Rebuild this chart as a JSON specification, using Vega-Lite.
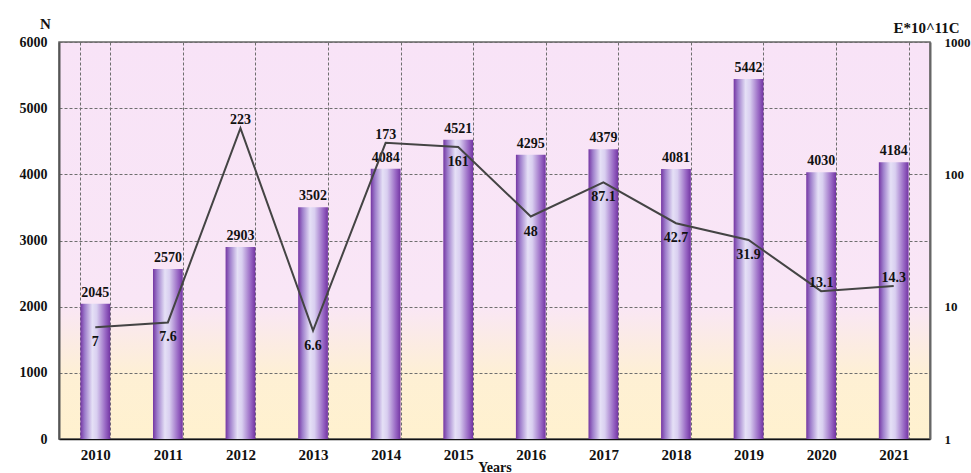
{
  "$schema": "https://vega.github.io/schema/vega-lite/v6.json",
  "width": 871,
  "height": 397,
  "autosize": "none",
  "padding": {"left": 59, "top": 42, "right": 41, "bottom": 34},
  "background": "white",
  "config": {
    "font": "Liberation Serif",
    "view": {
      "stroke": "#666666",
      "strokeWidth": 1.5,
      "fill": {
        "gradient": "linear",
        "x1": 0, "y1": 0, "x2": 0, "y2": 1,
        "stops": [
          {"offset": 0, "color": "#f8e3f7"},
          {"offset": 0.66, "color": "#f9e6f6"},
          {"offset": 0.84, "color": "#fef0d4"},
          {"offset": 1, "color": "#fff1cf"}
        ]
      }
    },
    "axis": {
      "labelFont": "Liberation Serif",
      "labelFontWeight": "bold",
      "labelFontSize": 14,
      "labelColor": "#111111",
      "titleFont": "Liberation Serif",
      "titleFontWeight": "bold",
      "titleFontSize": 15,
      "titleColor": "#111111",
      "tickSize": 0,
      "gridColor": "#6e6e6e",
      "gridDash": [3, 2],
      "gridWidth": 1
    }
  },
  "data": {
    "values": [
      {"year": "2010", "N": 2045, "E": 7},
      {"year": "2011", "N": 2570, "E": 7.6},
      {"year": "2012", "N": 2903, "E": 223},
      {"year": "2013", "N": 3502, "E": 6.6},
      {"year": "2014", "N": 4084, "E": 173},
      {"year": "2015", "N": 4521, "E": 161},
      {"year": "2016", "N": 4295, "E": 48},
      {"year": "2017", "N": 4379, "E": 87.1},
      {"year": "2018", "N": 4081, "E": 42.7},
      {"year": "2019", "N": 5442, "E": 31.9},
      {"year": "2020", "N": 4030, "E": 13.1},
      {"year": "2021", "N": 4184, "E": 14.3}
    ]
  },
  "encoding": {
    "x": {
      "field": "year",
      "type": "ordinal",
      "scale": {"paddingInner": 0.59, "paddingOuter": 0.295},
      "axis": {
        "title": "Years",
        "labelAngle": 0,
        "labelPadding": 8,
        "labelFontSize": 15,
        "titleFontSize": 14,
        "titleBaseline": "top",
        "titleY": 21,
        "tickBand": "extent",
        "grid": true,
        "domainColor": "#111111",
        "domainWidth": 1.5
      }
    }
  },
  "layer": [
    {
      "layer": [
        {
          "mark": {
            "type": "bar",
            "color": {
              "gradient": "linear",
              "x1": 0, "y1": 0, "x2": 1, "y2": 0,
              "stops": [
                {"offset": 0, "color": "#7436a3"},
                {"offset": 0.15, "color": "#9f7fcc"},
                {"offset": 0.4, "color": "#e5e0f6"},
                {"offset": 0.55, "color": "#d9cff0"},
                {"offset": 0.85, "color": "#9664c2"},
                {"offset": 1, "color": "#7234a2"}
              ]
            }
          },
          "encoding": {
            "y": {
              "field": "N",
              "type": "quantitative",
              "scale": {"domain": [0, 6000], "nice": false},
              "axis": {
                "orient": "left",
                "values": [0, 1000, 2000, 3000, 4000, 5000, 6000],
                "format": "d",
                "grid": true,
                "labelPadding": 12,
                "domainColor": "#555555",
                "domainWidth": 2,
                "title": "N",
                "titleAngle": 0,
                "titleAlign": "center",
                "titleBaseline": "alphabetic",
                "titleX": -14,
                "titleY": -14
              }
            }
          }
        },
        {
          "mark": {"type": "text", "font": "Liberation Serif", "fontWeight": "bold", "fontSize": 14, "color": "#111111", "baseline": "alphabetic", "dy": -7},
          "encoding": {
            "y": {"field": "N", "type": "quantitative"},
            "text": {"field": "N", "type": "quantitative", "format": "d"}
          }
        }
      ]
    },
    {
      "layer": [
        {
          "mark": {"type": "line", "color": "#444444", "strokeWidth": 2},
          "encoding": {
            "y": {
              "field": "E",
              "type": "quantitative",
              "scale": {"type": "log", "domain": [1, 1000], "nice": false},
              "axis": {
                "orient": "right",
                "values": [1, 10, 100, 1000],
                "format": "d",
                "grid": false,
                "labelFontSize": 13,
                "labelPadding": 14,
                "domainColor": "#666666",
                "domainWidth": 2,
                "title": "E*10^11C",
                "titleAngle": 0,
                "titleAlign": "center",
                "titleBaseline": "alphabetic",
                "titleX": -4,
                "titleY": -10
              }
            }
          }
        },
        {
          "transform": [{"filter": "indexof(['2012','2014','2020','2021'], datum.year) >= 0"}],
          "mark": {"type": "text", "font": "Liberation Serif", "fontWeight": "bold", "fontSize": 14, "color": "#111111", "baseline": "alphabetic", "dy": -4},
          "encoding": {
            "y": {"field": "E", "type": "quantitative"},
            "text": {"field": "E", "type": "nominal"}
          }
        },
        {
          "transform": [{"filter": "indexof(['2012','2014','2020','2021'], datum.year) < 0"}],
          "mark": {"type": "text", "font": "Liberation Serif", "fontWeight": "bold", "fontSize": 14, "color": "#111111", "baseline": "alphabetic", "dy": 19},
          "encoding": {
            "y": {"field": "E", "type": "quantitative"},
            "text": {"field": "E", "type": "nominal"}
          }
        }
      ]
    }
  ],
  "resolve": {"scale": {"y": "independent"}, "axis": {"y": "independent"}}
}
